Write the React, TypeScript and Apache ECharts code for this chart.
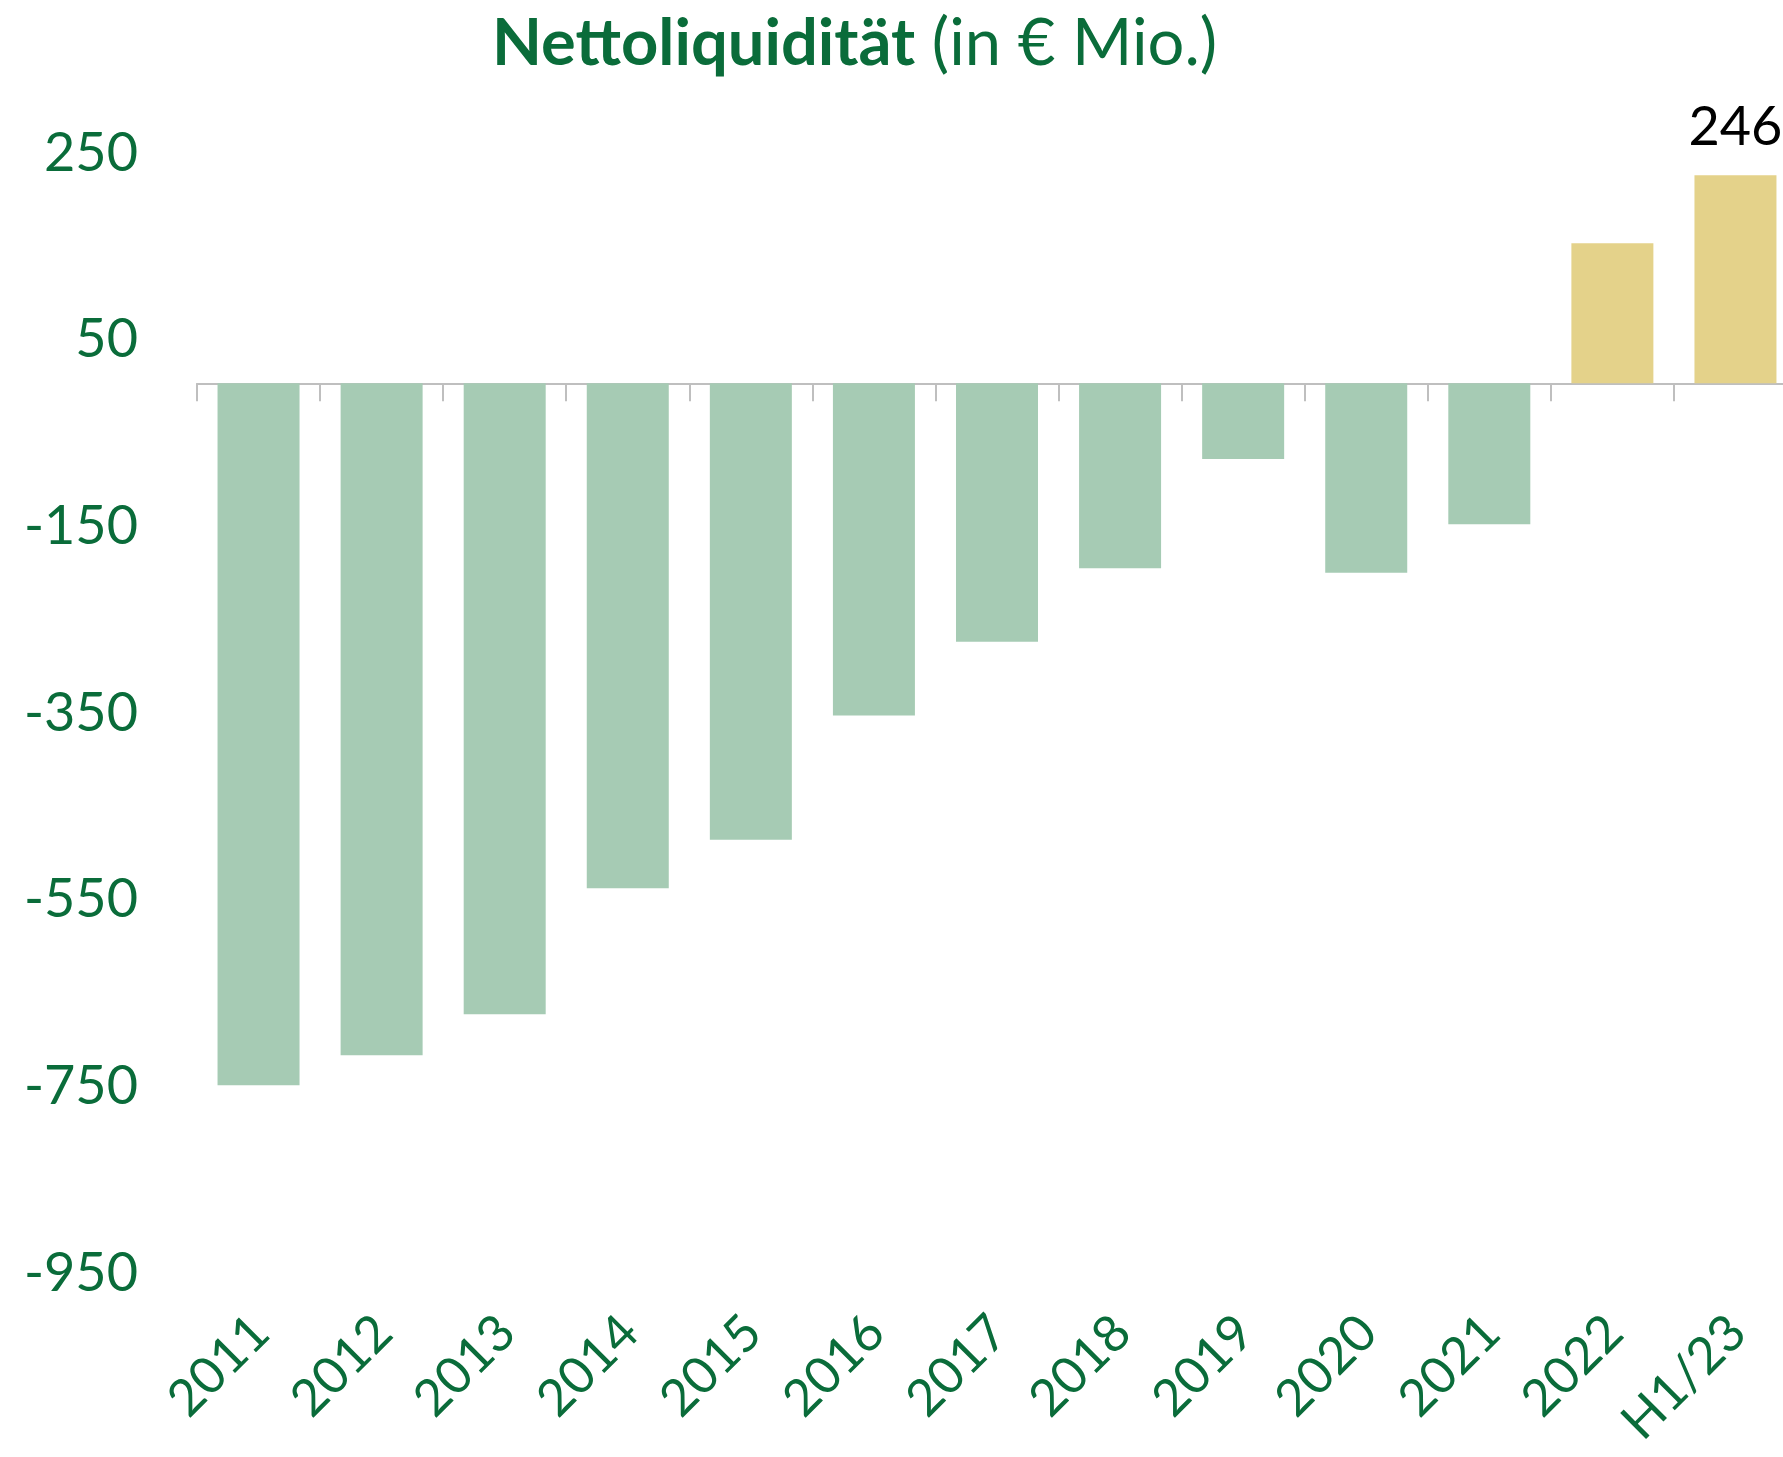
import React, { useEffect, useRef } from "react";
import * as echarts from "echarts";

const categories = ["2011", "2012", "2013", "2014", "2015", "2016", "2017", "2018", "2019", "2020", "2021", "2022", "H1/23"];
const values = [-752, -720, -676, -541, -489, -356, -277, -198, -81, -203, -151, 150, 223];
const valueLabels = ["", "", "", "", "", "", "", "", "", "", "", "", "246"];
const yTicks = [-950, -750, -550, -350, -150, 50, 250];

const GREEN_TEXT = "#0a6c3a";
const FONT = "Lato, 'Open Sans', sans-serif";

export default function App() {
  const ref = useRef<HTMLDivElement>(null);
  useEffect(() => {
    document.body.style.margin = "0";
    document.body.style.overflow = "hidden";
    const chart = echarts.init(ref.current!, null, { renderer: "svg" });
    chart.setOption({
      animation: false,
      backgroundColor: "#ffffff",
      title: {
        text: "{b|Nettoliquidität}{r| (in € Mio.)}",
        left: 487,
        top: 2,
        textStyle: {
          rich: {
            b: { fontFamily: FONT, fontWeight: "bold", fontSize: 65, color: GREEN_TEXT },
            r: { fontFamily: FONT, fontWeight: "normal", fontSize: 65, color: GREEN_TEXT },
          },
        },
      },
      grid: {
        left: 197,
        top: 150,
        width: 1600,
        height: 1120,
        containLabel: false,
        outerBoundsMode: "none",
      },
      xAxis: [
        {
          type: "category",
          data: categories,
          position: "bottom",
          axisLine: { show: false, onZero: false },
          axisTick: { show: false },
          axisLabel: {
            rotate: 45,
            margin: 52,
            interval: 0,
            color: GREEN_TEXT,
            fontFamily: FONT,
            fontSize: 51,
            lineHeight: 51,
          },
        },
        {
          type: "category",
          data: categories,
          position: "bottom",
          axisLine: { show: true, onZero: true, lineStyle: { color: "#bfbfbf", width: 2 } },
          axisTick: { show: true, length: 18, lineStyle: { color: "#bfbfbf", width: 2 } },
          axisLabel: { show: false },
        },
      ],
      yAxis: {
        type: "value",
        min: -950,
        max: 250,
        splitLine: { show: false },
        axisLine: { show: false },
        axisTick: { show: false },
        axisLabel: {
          customValues: yTicks,
          margin: 59,
          color: GREEN_TEXT,
          fontFamily: FONT,
          fontSize: 54,
        },
      },
      series: [
        {
          type: "bar",
          xAxisIndex: 0,
          data: values,
          barWidth: 82,
          itemStyle: {
            color: (p: any) => (p.value >= 0 ? "#e4d28a" : "#a6cbb4"),
          },
          label: {
            show: true,
            position: "top",
            distance: 24,
            color: "#000000",
            fontFamily: FONT,
            fontSize: 54,
            formatter: (p: any) => valueLabels[p.dataIndex],
          },
        },
      ],
    });
    return () => chart.dispose();
  }, []);
  return <div ref={ref} style={{ width: 1783, height: 1457 }} />;
}
